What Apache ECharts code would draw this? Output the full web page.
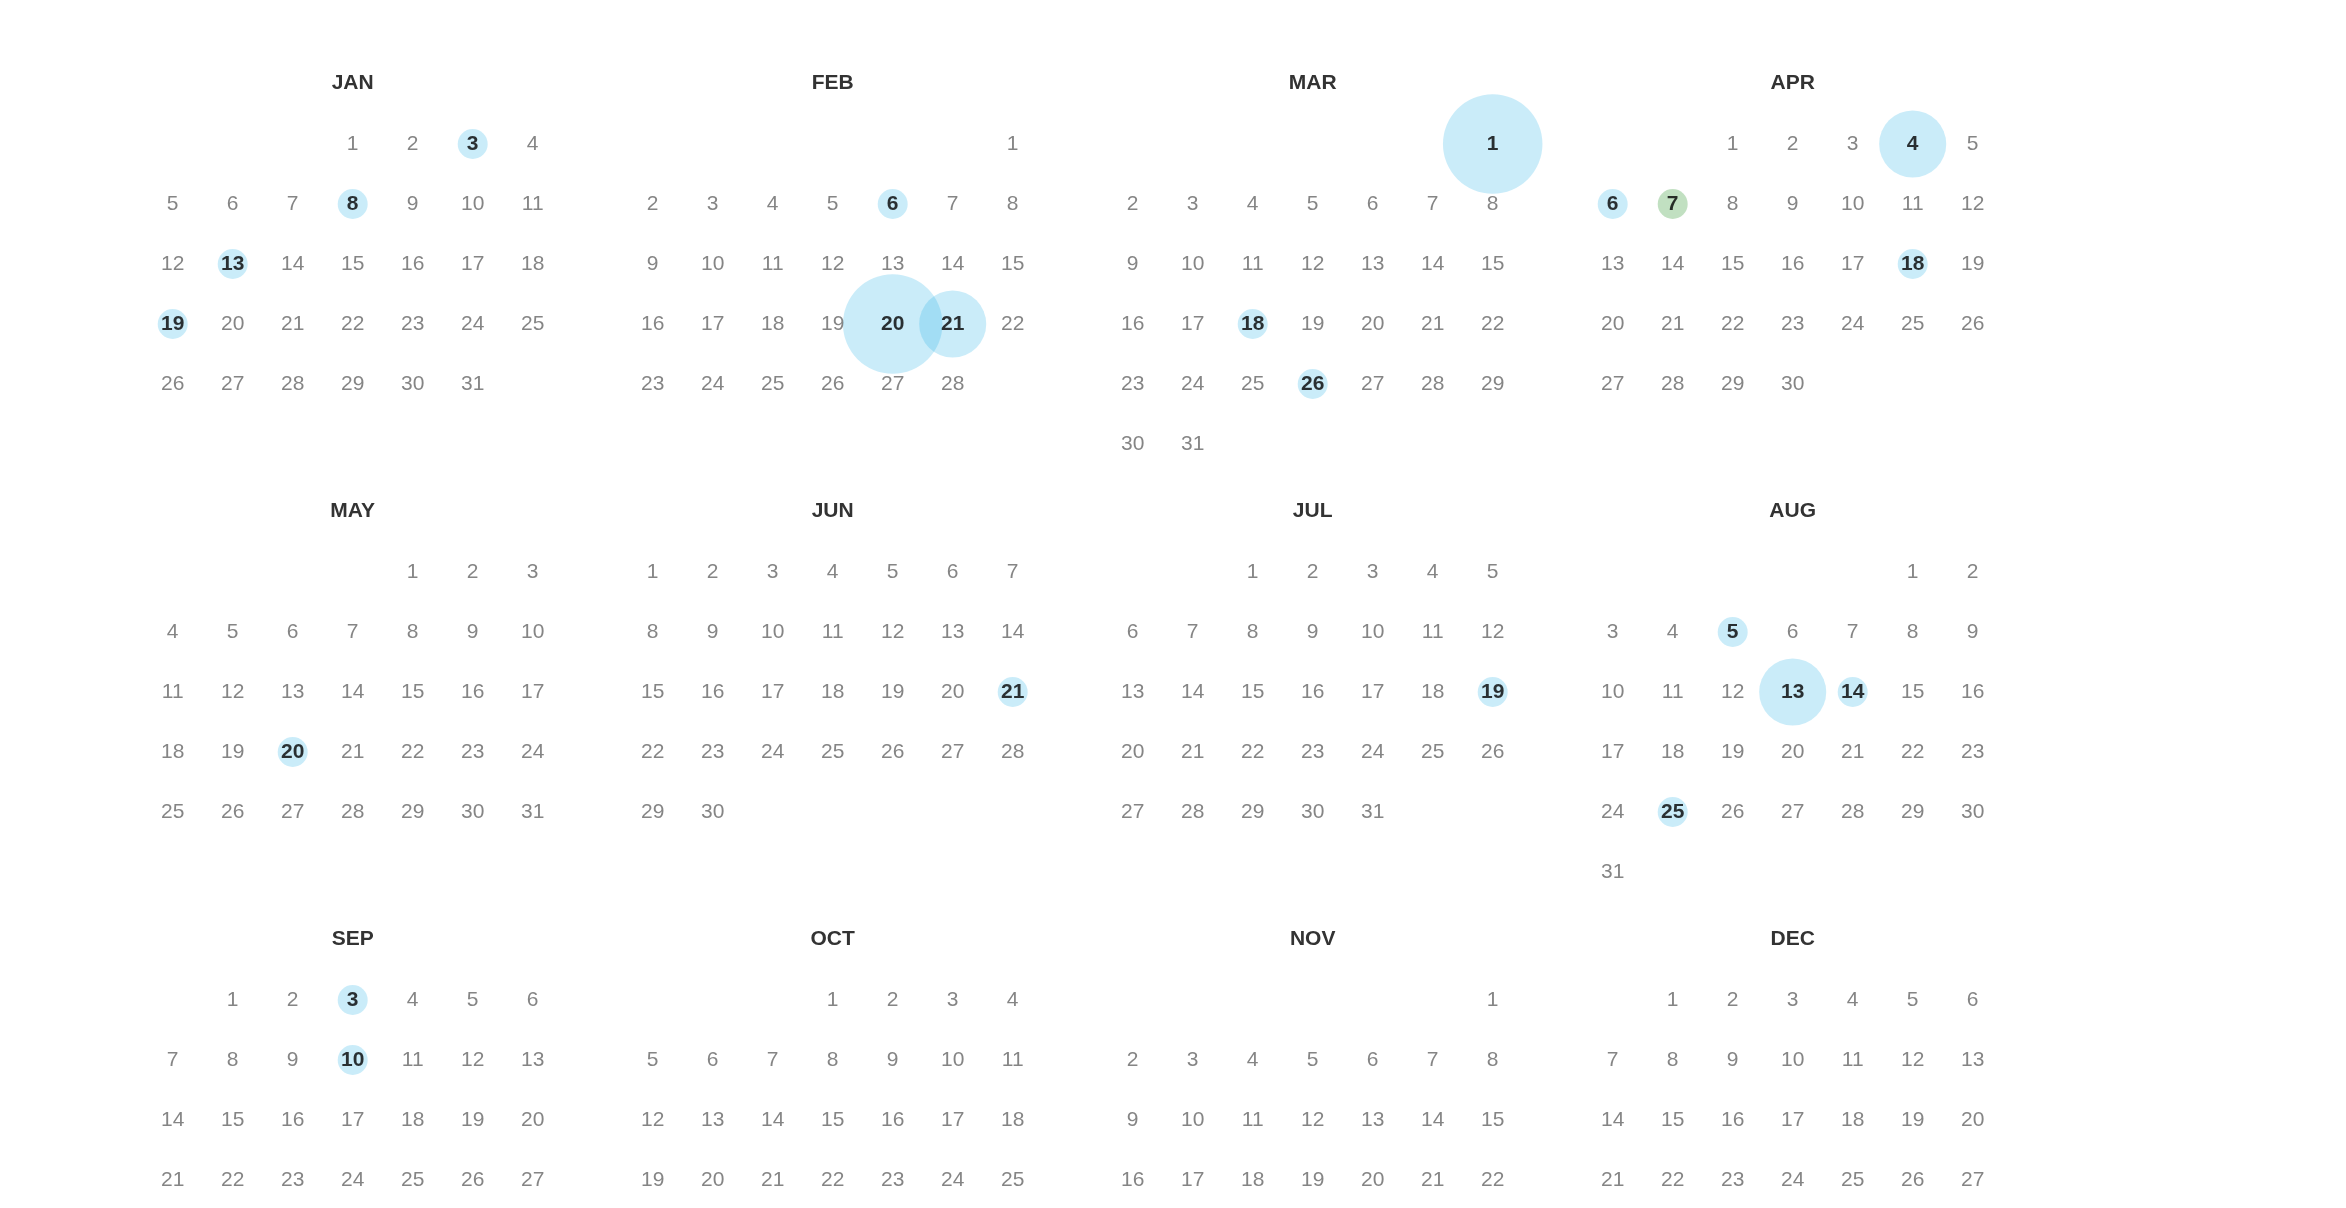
<!DOCTYPE html>
<html>
<head>
<meta charset="utf-8">
<script src="https://cdn.jsdelivr.net/npm/echarts@6/dist/echarts.min.js"></script>
<style>
html,body{margin:0;padding:0;background:#fff;}
#main{width:2346px;height:1208px;}
</style>
</head>
<body>
<div id="main"></div>
<script>
var year = 2025;
var monthNames = ['JAN','FEB','MAR','APR','MAY','JUN','JUL','AUG','SEP','OCT','NOV','DEC'];
// highlighted days: date, count, type
var eventDates = ['2025-01-03','2025-01-08','2025-01-13','2025-01-19',
  '2025-02-06','2025-02-20','2025-02-21',
  '2025-03-01','2025-03-18','2025-03-26',
  '2025-04-04','2025-04-06','2025-04-07','2025-04-18',
  '2025-05-20','2025-06-21','2025-07-19',
  '2025-08-05','2025-08-13','2025-08-14','2025-08-25',
  '2025-09-03','2025-09-10'];
var eventCounts = [1,1,1,1, 1,11,5, 11,1,1, 5,1,1,1, 1,1,1, 1,5,1,1, 1,1];
var eventTypes = ['A','A','A','A', 'A','A','A', 'A','A','A', 'A','A','B','A', 'A','A','A', 'A','A','A','A', 'A','A'];

var typeColors = {A: 'rgba(38,175,232,0.3)', B: 'rgba(0,128,0,0.3)'};
var LEFT0 = 142.7, TOP0 = 114, COLSTEP = 480, ROWSTEP = 428, CELL = 60;
var FONT = 'Liberation Sans, Arial, Helvetica, sans-serif';

function pad(n){return n<10?'0'+n:''+n;}
var eventSet = {};
eventDates.forEach(function(d){eventSet[d]=true;});

function build(plainStyle, noBorder){
  var calendars = [], series = [], graphics = [];
  for (var m = 0; m < 12; m++) {
    var left = LEFT0 + (m % 4) * COLSTEP;
    var top = TOP0 + Math.floor(m / 4) * ROWSTEP;
    var ym = year + '-' + pad(m + 1);
    calendars.push({
      orient: 'vertical', range: ym, left: left, top: top, cellSize: [CELL, CELL],
      splitLine: {show: false},
      itemStyle: {color: 'transparent', borderWidth: 0},
      dayLabel: {show: false}, monthLabel: {show: false}, yearLabel: {show: false}
    });
    graphics.push({
      type: 'text', x: left + 3.5 * CELL, y: top - 31,
      style: {text: monthNames[m], align: 'center', verticalAlign: 'middle',
        font: 'bold 21px ' + FONT, fill: '#333'}
    });
    var days = new Date(year, m + 1, 0).getDate();
    var plain = [];
    for (var d = 1; d <= days; d++) {
      var ds = ym + '-' + pad(d);
      if (!eventSet[ds]) plain.push([ds, d]);
    }
    var plainLabel = {show: true, position: 'inside', color: '#666', fontSize: 21, fontFamily: FONT,
      formatter: function(p){return '' + p.value[1];}};
    var evLabel = {show: true, position: 'inside', color: '#000', fontWeight: 'bold', fontSize: 21, fontFamily: FONT,
      formatter: function(p){return '' + parseInt(String(p.value[0]).slice(8), 10);}};
    if (noBorder) {
      plainLabel.textBorderWidth = 0; plainLabel.textBorderColor = '#666';
      evLabel.textBorderWidth = 0; evLabel.textBorderColor = '#000';
    }
    series.push({
      type: 'scatter', coordinateSystem: 'calendar', calendarIndex: m,
      data: plain, symbolSize: 1, itemStyle: plainStyle, label: plainLabel
    });
    var ev = [];
    for (var i = 0; i < eventDates.length; i++) {
      if (eventDates[i].slice(0, 7) === ym) {
        ev.push({value: [eventDates[i], eventCounts[i]], itemStyle: {color: typeColors[eventTypes[i]]}});
      }
    }
    if (ev.length) {
      series.push({
        type: 'scatter', coordinateSystem: 'calendar', calendarIndex: m,
        data: ev,
        symbolSize: function(v){return 30 * Math.sqrt(v[1]);},
        itemStyle: {color: typeColors.A},
        z: 3,
        label: evLabel
      });
    }
  }
  return {animation: false, backgroundColor: '#fff', color: [typeColors.A], calendar: calendars, series: series, graphic: graphics};
}

var attempts = [
  [{color: '#ffffff'}, true],
  [{color: '#ffffff'}, false],
  [{color: 'rgba(255,255,255,0)'}, false]
];
var el = document.getElementById('main');
for (var t = 0; t < attempts.length; t++) {
  var old = echarts.getInstanceByDom(el);
  if (old) old.dispose();
  var chart = echarts.init(el);
  try { chart.setOption(build(attempts[t][0], attempts[t][1])); break; } catch (err) { console.log('attempt ' + t + ' failed: ' + err.message); }
}
</script>
</body>
</html>
